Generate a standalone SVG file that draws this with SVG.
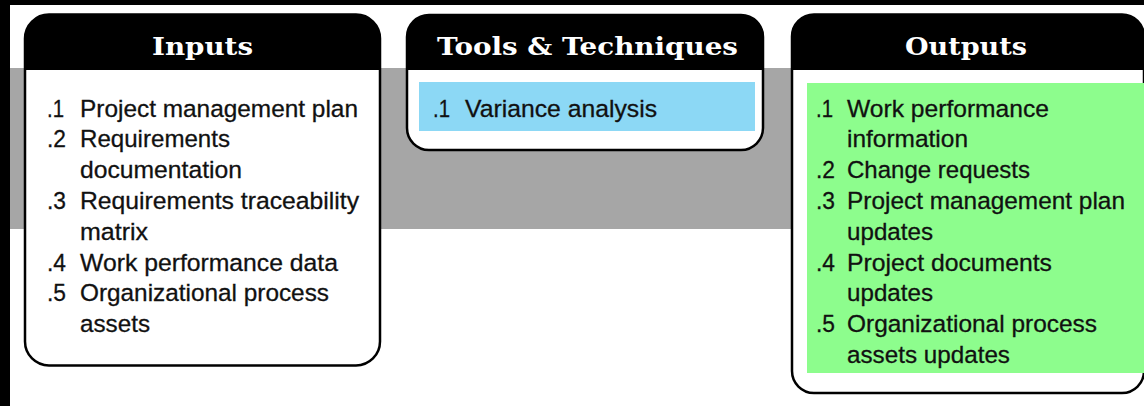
<svg xmlns="http://www.w3.org/2000/svg" width="1144" height="406" viewBox="0 0 1144 406">
  <style>
    .frame { fill: #000; }
    .band { fill: #a6a6a6; }
    .box { fill: #fff; stroke: #000; stroke-width: 2.5; }
    .head { fill: #000; }
    .title { font-family: "DejaVu Serif", "Liberation Serif", serif; font-weight: bold; font-size: 25px; fill: #fff; text-anchor: middle; }
    .item { font-family: "Liberation Sans", Arial, sans-serif; font-size: 24.5px; fill: #111; stroke: #111; stroke-width: 0.3; }
    .tools-hl { fill: #8cd8f5; }
    .out-hl { fill: #8dfd8d; }
  </style>

  <!-- page background and frame edges -->
  <rect x="0" y="0" width="1144" height="406" fill="#fff"/>
  <rect class="frame" x="0" y="0" width="1144" height="5"/>
  <rect class="frame" x="0" y="0" width="10" height="406"/>

  <!-- gray band behind the three panels -->
  <rect class="band" x="10" y="68" width="1134" height="161"/>

  <g id="connectors"></g>

  <!-- Inputs panel -->
  <g id="inputs">
    <rect class="box" x="25" y="14.5" width="355" height="351" rx="24" ry="24"/>
    <path class="head" d="M25,70 V38.5 A24,24 0 0 1 49,14.5 H356 A24,24 0 0 1 380,38.5 V70 Z"/>
    <text class="title" x="202.5" y="55" textLength="101" lengthAdjust="spacingAndGlyphs">Inputs</text>
    <g class="item">
      <text x="47" y="116.5" textLength="17" lengthAdjust="spacingAndGlyphs">.1</text><text x="80" y="116.5" textLength="278" lengthAdjust="spacingAndGlyphs">Project management plan</text>
      <text x="47" y="147.3" textLength="19" lengthAdjust="spacingAndGlyphs">.2</text><text x="80" y="147.3" textLength="150" lengthAdjust="spacingAndGlyphs">Requirements</text>
      <text x="80" y="178.1" textLength="162" lengthAdjust="spacingAndGlyphs">documentation</text>
      <text x="47" y="208.9" textLength="19" lengthAdjust="spacingAndGlyphs">.3</text><text x="80" y="208.9" textLength="279" lengthAdjust="spacingAndGlyphs">Requirements traceability</text>
      <text x="80" y="239.7" textLength="68" lengthAdjust="spacingAndGlyphs">matrix</text>
      <text x="47" y="270.5" textLength="19" lengthAdjust="spacingAndGlyphs">.4</text><text x="80" y="270.5" textLength="258" lengthAdjust="spacingAndGlyphs">Work performance data</text>
      <text x="47" y="301.3" textLength="19" lengthAdjust="spacingAndGlyphs">.5</text><text x="80" y="301.3" textLength="249" lengthAdjust="spacingAndGlyphs">Organizational process</text>
      <text x="80" y="332.1" textLength="70" lengthAdjust="spacingAndGlyphs">assets</text>
    </g>
  </g>

  <!-- Tools & Techniques panel -->
  <g id="tools">
    <rect class="box" x="407" y="15" width="356" height="135" rx="22" ry="22"/>
    <path class="head" d="M407,70 V37 A22,22 0 0 1 429,15 H741 A22,22 0 0 1 763,37 V70 Z"/>
    <text class="title" x="587.5" y="55" textLength="301" lengthAdjust="spacingAndGlyphs">Tools &amp; Techniques</text>
    <rect class="tools-hl" x="419" y="82" width="336" height="49"/>
    <g class="item">
      <text x="433" y="117" textLength="17" lengthAdjust="spacingAndGlyphs">.1</text><text x="465" y="117" textLength="192" lengthAdjust="spacingAndGlyphs">Variance analysis</text>
    </g>
  </g>

  <!-- Outputs panel -->
  <g id="outputs">
    <rect class="box" x="792" y="14.5" width="352" height="378.5" rx="22" ry="22"/>
    <path class="head" d="M792,70 V36.5 A22,22 0 0 1 814,14.5 H1122 A22,22 0 0 1 1144,36.5 V70 Z"/>
    <text class="title" x="966" y="55" textLength="122" lengthAdjust="spacingAndGlyphs">Outputs</text>
    <rect class="out-hl" x="807" y="83" width="337" height="290"/>
    <g class="item">
      <text x="816" y="116.5" textLength="17" lengthAdjust="spacingAndGlyphs">.1</text><text x="847" y="116.5" textLength="202" lengthAdjust="spacingAndGlyphs">Work performance</text>
      <text x="847" y="147.3" textLength="121" lengthAdjust="spacingAndGlyphs">information</text>
      <text x="816" y="178.1" textLength="19" lengthAdjust="spacingAndGlyphs">.2</text><text x="847" y="178.1" textLength="183" lengthAdjust="spacingAndGlyphs">Change requests</text>
      <text x="816" y="208.9" textLength="19" lengthAdjust="spacingAndGlyphs">.3</text><text x="847" y="208.9" textLength="278" lengthAdjust="spacingAndGlyphs">Project management plan</text>
      <text x="847" y="239.7" textLength="86" lengthAdjust="spacingAndGlyphs">updates</text>
      <text x="816" y="270.5" textLength="19" lengthAdjust="spacingAndGlyphs">.4</text><text x="847" y="270.5" textLength="205" lengthAdjust="spacingAndGlyphs">Project documents</text>
      <text x="847" y="301.3" textLength="86" lengthAdjust="spacingAndGlyphs">updates</text>
      <text x="816" y="332.1" textLength="19" lengthAdjust="spacingAndGlyphs">.5</text><text x="847" y="332.1" textLength="250" lengthAdjust="spacingAndGlyphs">Organizational process</text>
      <text x="847" y="362.9" textLength="163" lengthAdjust="spacingAndGlyphs">assets updates</text>
    </g>
  </g>
</svg>
